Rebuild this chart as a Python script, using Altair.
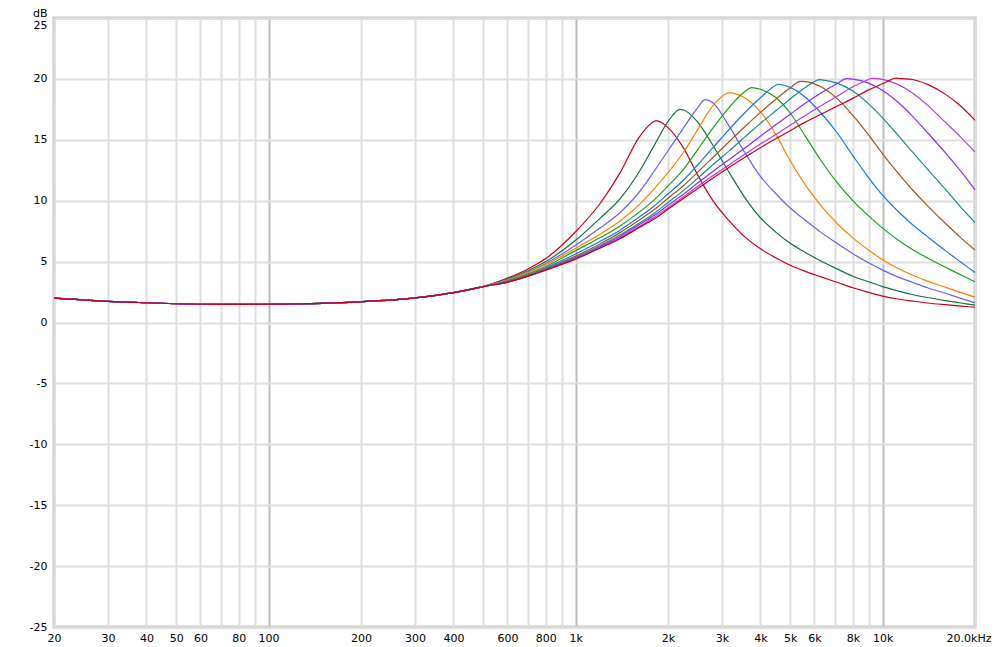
import altair as alt
import pandas as pd

# Shared low-frequency part (all curves coincide here)
FREQ_LOW = [20, 25, 30, 40, 50, 70, 100, 150, 200, 300, 400, 500]
DB_LOW = [2.0, 1.85, 1.74, 1.62, 1.54, 1.49, 1.5, 1.57, 1.7, 2.02, 2.45, 2.95]

# Upper frequency grid where curves separate
FREQ_HI = [600, 700, 800, 1000, 1200, 1400, 1600, 1800, 2000, 2250, 2500, 2800,
           3150, 3550, 4000, 4500, 5000, 5600, 6300, 7100, 8000, 9000, 10000,
           11200, 12500, 14000, 16000, 18000, 20000]

DB_C1 = [3.65, 4.4, 5.25, 7.45, 9.75, 12.35, 15.1, 16.5, 16.0, 14.3, 12.1, 10.0,
         8.4, 7.05, 6.05, 5.3, 4.7, 4.2, 3.75, 3.3, 2.85, 2.47, 2.17,
         1.93, 1.76, 1.6, 1.46, 1.35, 1.25]
DB_C2 = [3.58, 4.25, 5.0, 6.75, 8.55, 10.2, 12.25, 14.5, 16.5, 17.45, 16.45, 14.55,
         12.4, 10.3, 8.6, 7.4, 6.5, 5.75, 5.05, 4.4, 3.8, 3.35, 2.95,
         2.6, 2.3, 2.05, 1.8, 1.6, 1.42]
DB_C3 = [3.53, 4.15, 4.85, 6.35, 7.75, 9.05, 10.6, 12.4, 14.1, 16.0, 17.65, 18.05,
         16.2, 14.0, 12.0, 10.55, 9.4, 8.4, 7.4, 6.5, 5.65, 4.9, 4.3,
         3.75, 3.3, 2.85, 2.4, 1.98, 1.62]
DB_C4 = [3.48, 4.1, 4.75, 6.1, 7.25, 8.35, 9.6, 10.95, 12.3, 14.0, 15.85, 17.8,
         18.85, 18.45, 17.3, 15.4, 13.3, 11.3, 9.6, 8.15, 6.95, 5.95, 5.15,
         4.45, 3.9, 3.4, 2.9, 2.45, 2.08]
DB_C5 = [3.43, 4.0, 4.6, 5.9, 6.95, 7.95, 9.0, 10.05, 11.2, 12.6, 14.2, 15.95,
         17.6, 18.95, 19.15, 18.45, 17.2, 15.3, 13.3, 11.5, 10.0, 8.75, 7.75,
         6.8, 6.0, 5.3, 4.55, 3.9, 3.35]
DB_C6 = [3.37, 3.92, 4.5, 5.62, 6.65, 7.6, 8.6, 9.55, 10.55, 11.7, 12.95, 14.35,
         15.8, 17.2, 18.45, 19.5, 19.3, 18.5, 17.2, 15.6, 13.7, 11.9, 10.45,
         9.15, 8.05, 7.05, 5.9, 4.95, 4.1]
DB_C7 = [3.35, 3.87, 4.42, 5.45, 6.45, 7.4, 8.35, 9.25, 10.2, 11.25, 12.35, 13.55,
         14.8, 16.05, 17.25, 18.35, 19.25, 19.78, 19.35, 18.4, 17.0, 15.4, 13.85,
         12.3, 10.9, 9.6, 8.15, 6.95, 5.95]
DB_C8 = [3.33, 3.84, 4.37, 5.35, 6.3, 7.2, 8.1, 8.95, 9.85, 10.85, 11.85, 12.95,
         14.05, 15.2, 16.35, 17.4, 18.35, 19.3, 19.93, 19.65, 19.0, 17.95, 16.8,
         15.4, 14.0, 12.6, 10.95, 9.45, 8.2]
DB_C9 = [3.32, 3.82, 4.33, 5.28, 6.22, 7.08, 7.98, 8.78, 9.62, 10.55, 11.45, 12.4,
         13.35, 14.3, 15.3, 16.25, 17.1, 18.0, 18.85, 19.6, 19.98, 19.65, 19.05,
         18.1, 16.95, 15.6, 13.95, 12.4, 10.9]
DB_C10 = [3.31, 3.81, 4.31, 5.23, 6.14, 6.97, 7.84, 8.62, 9.43, 10.33, 11.18, 12.05,
          12.92, 13.8, 14.65, 15.45, 16.2, 17.0, 17.8, 18.55, 19.35, 19.95, 19.96,
          19.55, 18.85, 17.85, 16.45, 15.2, 14.0]
DB_C11 = [3.3, 3.8, 4.3, 5.2, 6.1, 6.9, 7.75, 8.5, 9.3, 10.2, 11.0, 11.85,
          12.7, 13.55, 14.35, 15.1, 15.75, 16.45, 17.1, 17.75, 18.4, 19.1, 19.6,
          20.05, 19.95, 19.55, 18.75, 17.75, 16.6]

PEAK_FREQ = [1830, 2190, 2640, 3180, 3750, 4550, 5400, 6260, 7640, 9220, 11100]
PEAK_DB = [16.57, 17.5, 18.3, 18.86, 19.29, 19.56, 19.8, 19.94, 20.02, 20.05, 20.07]

SERIES = ["c1", "c2", "c3", "c4", "c5", "c6", "c7", "c8", "c9", "c10", "c11"]
COLORS = ["#c4001c", "#13703f", "#6a60e6", "#ff8000", "#18a018", "#1a74e2",
          "#a2561c", "#178c8c", "#8a30f0", "#b43ed8", "#c4001c"]

X_TICKS = [20, 30, 40, 50, 60, 70, 80, 90, 100, 200, 300, 400, 500, 600, 700, 800, 900,
           1000, 2000, 3000, 4000, 5000, 6000, 7000, 8000, 9000, 10000, 20000]
X_LABELS = {20: "20", 30: "30", 40: "40", 50: "50", 60: "60", 80: "80", 100: "100",
            200: "200", 300: "300", 400: "400", 600: "600", 800: "800", 1000: "1k",
            2000: "2k", 3000: "3k", 4000: "4k", 5000: "5k", 6000: "6k", 8000: "8k",
            10000: "10k", 20000: "20.0kHz"}
Y_TICKS = [-25, -20, -15, -10, -5, 0, 5, 10, 15, 20, 25]

curves = [DB_C1, DB_C2, DB_C3, DB_C4, DB_C5, DB_C6, DB_C7, DB_C8, DB_C9, DB_C10, DB_C11]
rows = []
for i, (name, db) in enumerate(zip(SERIES, curves)):
    fs = FREQ_LOW + FREQ_HI + [PEAK_FREQ[i]]
    vs = DB_LOW + db + [PEAK_DB[i]]
    for f, v in sorted(zip(fs, vs)):
        rows.append({"series": name, "order": i, "freq": f, "db": v})
df = pd.DataFrame(rows)

label_expr = "{" + ",".join(f"'{k}':'{v}'" for k, v in X_LABELS.items()) + "}"
label_expr = f"({label_expr})[''+datum.value] || ''"

x_axis = alt.Axis(values=X_TICKS, labelExpr=label_expr, title=None, grid=True,
                  ticks=False, domain=False, labelPadding=5, labelFlush=False,
                  labelOverlap=False, labelFont="DejaVu Sans", labelFontSize=11,
                  labelColor="#000000",
                  labelAlign=alt.condition("datum.value == 20000", alt.value("right"), alt.value("center")),
                  labelOffset=alt.condition("datum.value == 20000", alt.value(16), alt.value(0)),
                  gridColor=alt.condition("datum.value == 100 || datum.value == 1000 || datum.value == 10000",
                                          alt.value("#bdbdbd"), alt.value("#dedede")),
                  gridWidth=2)
y_axis = alt.Axis(values=Y_TICKS, labelExpr="'' + datum.value", title="dB",
                  titleAngle=0, titleAlign="right", titleBaseline="alphabetic",
                  titleX=-7, titleY=-2, titleFont="DejaVu Sans", titleFontSize=11,
                  titleFontWeight="normal", titleColor="#000000",
                  grid=True, gridColor="#dedede", gridWidth=2, ticks=False,
                  domain=False, labelPadding=7, labelFont="DejaVu Sans",
                  labelFontSize=11, labelColor="#000000", labelFlush=False,
                  labelBaseline=alt.condition("datum.value == 25", alt.value("top"), alt.value("middle")),
                  labelOffset=alt.condition("datum.value == 25", alt.value(1), alt.value(0)))

chart = alt.Chart(df).mark_line(strokeWidth=1.2, interpolate="monotone").encode(
    x=alt.X("freq:Q", scale=alt.Scale(type="log", domain=[20, 20000], nice=False), axis=x_axis),
    y=alt.Y("db:Q", scale=alt.Scale(domain=[-25, 25], nice=False), axis=y_axis),
    color=alt.Color("series:N", scale=alt.Scale(domain=SERIES, range=COLORS), legend=None),
    order=alt.Order("freq:Q"),
).properties(
    width=921, height=609,
    padding={"left": 46, "top": 10, "right": 17, "bottom": 20},
    autosize="none",
).configure_view(stroke="#c6c6c6", strokeWidth=3)

chart.save("out.html", embed_options={"renderer": "svg", "actions": False})
